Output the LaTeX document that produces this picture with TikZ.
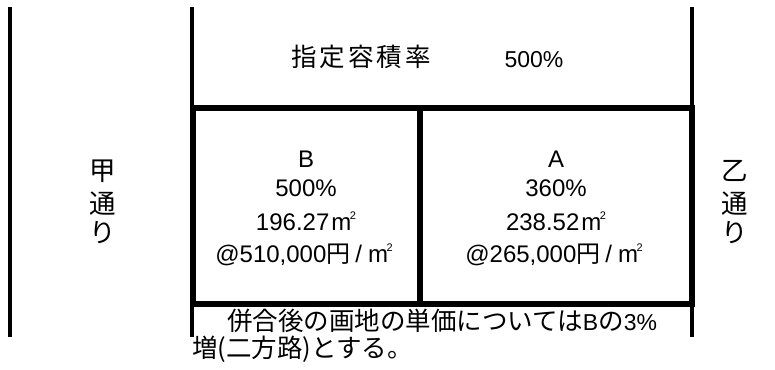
\documentclass[tikz,border=0pt]{standalone}
\usepackage{fontspec}
\setmainfont{Liberation Sans}
\newfontfamily\cjk{Noto Sans CJK JP}
\newcommand{\sqm}{m\kern-1.5pt\raisebox{10.5pt}{\fontsize{11}{11}\selectfont 2}}
\begin{document}
\begin{tikzpicture}[x=1pt,y=-1pt]
\tikzset{
  thinline/.style={line width=3.2pt},
  thickline/.style={line width=5.5pt},
  lat/.style={inner sep=0pt, anchor=base, font=\fontsize{24}{24}\selectfont},
  jp/.style={inner sep=0pt, font=\fontsize{25.5}{25.5}\selectfont\cjk},
  jpv/.style={inner sep=0pt, font=\fontsize{26.5}{26.5}\selectfont\cjk},
}
\useasboundingbox (0,0) rectangle (775,369);
% street lines
\coordinate (La) at (10,7);   \coordinate (Lb) at (10,337);
\coordinate (Ma) at (192,7);  \coordinate (Mb) at (192,108);
\coordinate (Mc) at (192,304);\coordinate (Md) at (192,337);
\coordinate (Ra) at (692,7);  \coordinate (Rb) at (692,108);
\coordinate (Rc) at (692,304);\coordinate (Rd) at (692,337);
\draw[thinline] (La) -- (Lb);
\draw[thinline] (Ma) -- (Mb);
\draw[thinline] (Mc) -- (Md);
\draw[thinline] (Ra) -- (Rb);
\draw[thinline] (Rc) -- (Rd);
% lots
\coordinate (BoxTL) at (193,108); \coordinate (BoxBR) at (692,304);
\coordinate (DivT) at (420,108);  \coordinate (DivB) at (420,304);
\draw[thickline] (BoxTL) rectangle (BoxBR);
\draw[thickline] (DivT) -- (DivB);
% top text
\node[jp] (shitei) at (361,57) {指\hspace{3pt}定\hspace{3pt}容\hspace{3pt}積\hspace{3pt}率};
\node[lat, font=\fontsize{23}{23}\selectfont] (shiteiv) at (534,67) {500\%};
% lot B
\node[lat] (Bn) at (306,167) {B};
\node[lat] (Bp) at (306,196) {500\%};
\node[lat] (Ba) at (306,230) {196.27\hspace{2pt}\sqm};
\node[lat] (Bu) at (304,262) {@510,000{\cjk 円}\hspace{5pt}/\hspace{6pt}\sqm};
% lot A
\node[lat] (An) at (556,167) {A};
\node[lat] (Ap) at (556,196) {360\%};
\node[lat] (Aa) at (556,230) {238.52\hspace{2pt}\sqm};
\node[lat] (Au) at (554,262) {@265,000{\cjk 円}\hspace{5pt}/\hspace{6pt}\sqm};
% streets
\node[jpv] (k1) at (103,171) {甲};
\node[jpv] (k2) at (103,204) {通};
\node[jpv] (k3) at (103,233) {り};
\node[jpv] (o1) at (735,171) {乙};
\node[jpv] (o2) at (735,204) {通};
\node[jpv] (o3) at (735,233) {り};
% note
\node[jp, anchor=west] (note1) at (227,321) {併合後の画地の単価については{\fontspec{Liberation Sans}\fontsize{23}{23}\selectfont B}の{\fontspec{Liberation Sans}\fontsize{23}{23}\selectfont 3\%}};
\node[jp, anchor=west] (note2) at (192,349) {増(二方路)とする。};
\end{tikzpicture}
\end{document}
